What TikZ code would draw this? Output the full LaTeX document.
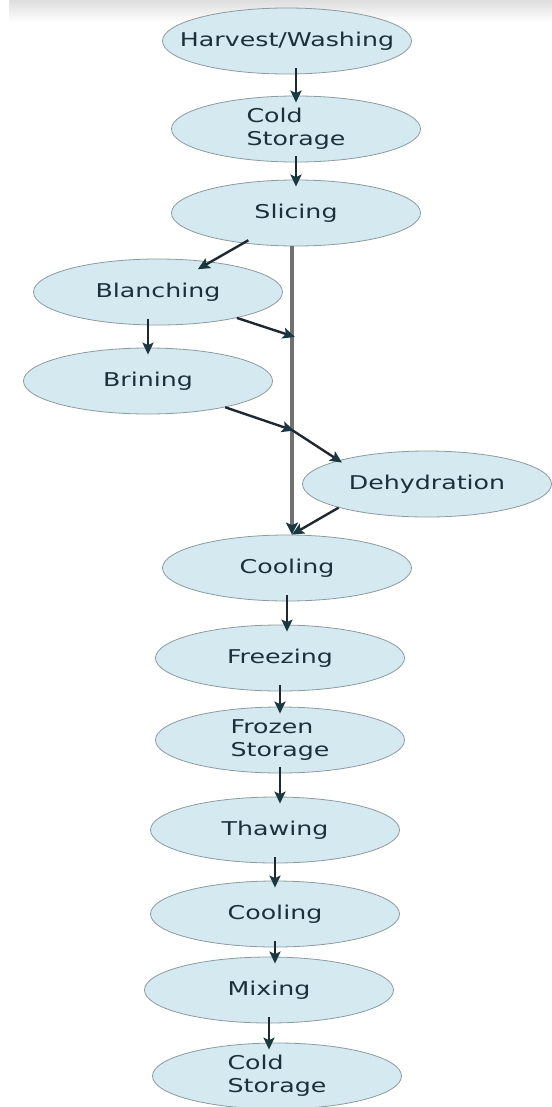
\documentclass[tikz,border=0pt]{standalone}
\usepackage{fontspec}
\usepackage{tikz}
\usetikzlibrary{shapes.geometric,arrows.meta,calc}
\newfontfamily\stagefont[FakeStretch=1.33]{DejaVu Sans}
\definecolor{myfill}{RGB}{213,233,240}
\definecolor{myedge}{RGB}{140,155,160}
\definecolor{mytext}{RGB}{28,48,58}
\definecolor{myarrow}{RGB}{30,40,46}
\definecolor{mytip}{RGB}{26,56,64}
\definecolor{mytrunk}{RGB}{112,112,112}

\begin{document}
\begin{tikzpicture}[x=1bp, y=-1bp,
  stage/.style={ellipse, draw=myedge, line width=0.8bp, fill=myfill,
    minimum width=249bp, minimum height=66bp, inner xsep=-30bp, inner ysep=0pt,
    align=left, text=mytext, font=\stagefont\fontsize{19bp}{23bp}\selectfont},
  flow/.style={draw=myarrow, line width=2.4bp,
    -{Stealth[length=12bp,width=11bp,inset=2.5bp,color=mytip]},
    shorten <=-6bp, shorten >=-7bp},
  trunk/.style={draw=mytrunk, line width=3.5bp,
    -{Stealth[length=12bp,width=12bp,inset=2.5bp,color=mytip]}}]
  \useasboundingbox (0,0) rectangle (552,1107);
  \fill[top color=black!13, bottom color=white] (9,0) rectangle (552,22);

  % stages
  \node[stage] (harvest) at (287,41) {Harvest/Washing};
  \node[stage] (cold) at (296,129) {Cold\\Storage};
  \node[stage] (slicing) at (296,213) {Slicing};
  \node[stage] (blanching) at (158,292) {Blanching};
  \node[stage] (brining) at (148,381) {Brining};
  \node[stage] (dehydration) at (427,484) {Dehydration};
  \node[stage] (cooling) at (287,568) {Cooling};
  \node[stage] (freezing) at (280,658) {Freezing};
  \node[stage] (frozen) at (280,740) {Frozen\\Storage};
  \node[stage] (thawing) at (275,830) {Thawing};
  \node[stage] (coolingb) at (275,914) {Cooling};
  \node[stage] (mixing) at (269,990) {Mixing};
  \node[stage] (coldb) at (277,1076) {Cold\\Storage};

  % junctions on the slicing -> cooling line
  \coordinate (trunktop) at (slicing.south -| 292,0);
  \coordinate (jA) at (292,336);
  \coordinate (jB) at (292,430);
  \coordinate (jC) at (cooling.north -| 292,0);

  \draw[trunk] (trunktop) -- (jC);

  \draw[flow] (cold.north |- harvest.south) -- (cold.north);
  \draw[flow] (cold.south) -- (cold.south |- slicing.north);
  \draw[flow, shorten >=-15bp] (slicing) -- (blanching);
  \draw[flow] (brining.north |- blanching.south) -- (brining.north);
  \draw[flow, shorten <=0bp, shorten >=-3bp] (blanching) -- (jA);
  \draw[flow, shorten <=0bp, shorten >=-2bp] (brining) -- (jB);
  \draw[flow, shorten <=0bp, shorten >=-4bp] (jB) -- (dehydration.north west);
  \draw[flow, shorten <=0bp, shorten >=0bp] (dehydration.south west) -- (jC);
  \draw[flow] (cooling.south) -- (cooling.south |- freezing.north);
  \draw[flow] (freezing.south) -- (freezing.south |- frozen.north);
  \draw[flow] (frozen.south) -- (frozen.south |- thawing.north);
  \draw[flow] (thawing.south) -- (thawing.south |- coolingb.north);
  \draw[flow] (coolingb.south) -- (coolingb.south |- mixing.north);
  \draw[flow] (mixing.south) -- (mixing.south |- coldb.north);
\end{tikzpicture}
\end{document}
